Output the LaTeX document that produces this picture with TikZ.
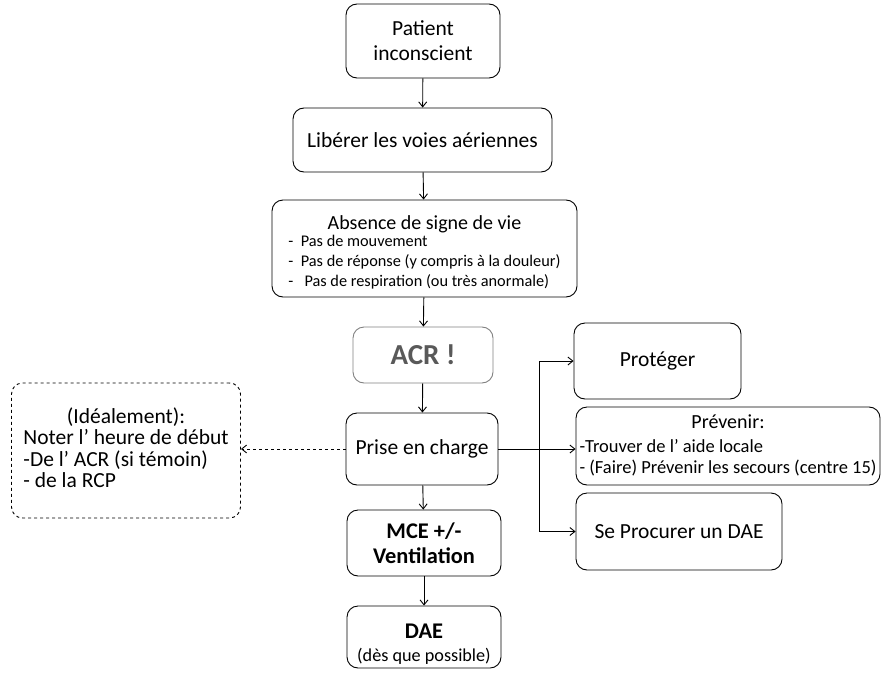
\documentclass[tikz,border=0pt]{standalone}
\usepackage{fontspec}
\setmainfont{Carlito}
\usetikzlibrary{arrows.meta}
\tikzset{
  etape/.style={draw, rounded corners=11pt, line width=0.9pt, align=center,
    inner sep=2pt, font=\fontsize{21.5}{25}\selectfont},
  fleche/.style={-{Straight Barb[length=5pt,width=8pt]}, line width=0.9pt},
}
\newcommand{\petit}{\fontsize{16.3}{20}\selectfont}
\newcommand{\moyen}{\fontsize{18.5}{21}\selectfont}
\begin{document}
\begin{tikzpicture}[x=1pt,y=-1pt]
        \useasboundingbox (0,0) rectangle (882,674);
        % colonne centrale
        \node[etape, minimum width=154pt, minimum height=74pt] (pat) at (423,41) {Patient\\inconscient};
        \node[etape, minimum width=259pt, minimum height=64pt] (lib) at (422.5,140) {Libérer les voies aériennes};
        \node[etape, inner sep=0pt, minimum width=305pt, minimum height=97pt] (abs) at (424.5,248.5)
          {\begin{tabular}{@{}l@{}}
             \multicolumn{1}{@{}c@{}}{\rule{0pt}{27pt}\fontsize{20}{22}\selectfont Absence de signe de vie}\\[-8pt]
             {\petit -\ \ Pas de mouvement}\\[-5pt]
             {\petit -\ \ Pas de réponse (y compris à la douleur)}\\[-5pt]
             {\petit -\ \ \ Pas de respiration (ou très anormale)}
           \end{tabular}};
        \node[etape, draw=black!50, text=black!65, minimum width=140pt, minimum height=56pt,
          font=\fontsize{29}{30}\selectfont\bfseries] (acr) at (423,355) {ACR !};
        \node[etape, minimum width=152pt, minimum height=72pt] (prise) at (422,449) {Prise en charge};
        \node[etape, minimum width=154pt, minimum height=66pt, font=\fontsize{22.4}{25}\selectfont\bfseries]
          (mce) at (424,543) {MCE +/-\\Ventilation};
        \node[etape, inner sep=0pt, minimum width=154pt, minimum height=62pt, font=\fontsize{22.4}{23}\selectfont] (dae) at (424,637)
          {\rule{0pt}{28pt}\textbf{DAE}\\{\fontsize{18.2}{20}\selectfont(dès que possible)}};
        % note a gauche
        \node[etape, dashed, minimum width=229pt, minimum height=135pt] (note) at (126,450.5)
          {\begin{tabular}{@{}l@{}}
             \multicolumn{1}{@{}c@{}}{(Idéalement):}\\[-3.5pt]
             \multicolumn{1}{@{}c@{}}{Noter l’ heure de début}\\[-3.5pt]
             -De l’ ACR (si témoin)\\[-3.5pt]
             - de la RCP
           \end{tabular}};
        % actions a droite
        \node[etape, minimum width=167pt, minimum height=76pt] (prot) at (657.5,361) {Protéger};
        \node[etape, minimum width=304pt, minimum height=78pt] (prev) at (728,446)
          {\begin{tabular}{@{}l@{}}
             \multicolumn{1}{@{}c@{}}{\fontsize{20}{22}\selectfont Prévenir:}\\[-1pt]
             {\moyen -Trouver de l’ aide locale}\\[-4pt]
             {\moyen - (Faire) Prévenir les secours (centre 15)}
           \end{tabular}};
        \node[etape, minimum width=206pt, minimum height=77pt] (proc) at (679,531.5) {Se Procurer un DAE};
        \coordinate (split) at (539,449);
        % fleches
        \draw[fleche] (pat) -- (lib);
        \draw[fleche] (lib) -- (abs);
        \draw[fleche] (abs) -- (acr);
        \draw[fleche] (acr) -- (prise);
        \draw[fleche] (prise) -- (mce);
        \draw[fleche] (mce) -- (dae);
        \draw[fleche, dashed] (prise.west) -- (prise.west -| note.east);
        \draw[fleche] (prise.east) -- (prise.east -| prev.west);
        \draw[fleche] (split |- prot.west) -- (prot.west);
        \draw[fleche] (split |- proc.west) -- (proc.west);
        \draw[line width=0.9pt] (split |- prot.west) -- (split |- proc.west);
      \end{tikzpicture}
\end{document}
